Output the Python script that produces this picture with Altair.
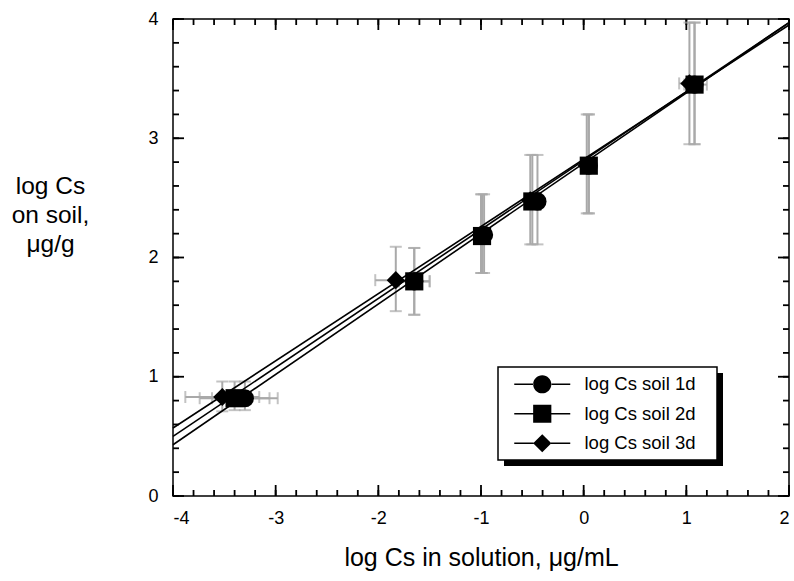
import altair as alt
import pandas as pd

# ---------------- data ----------------
series = ["log Cs soil 1d", "log Cs soil 2d", "log Cs soil 3d"]

x_1d = [-3.30, -1.65, -0.97, -0.45, 0.05, 1.08]
y_1d = [0.82, 1.80, 2.19, 2.47, 2.77, 3.45]
x_2d = [-3.40, -1.65, -0.99, -0.50, 0.05, 1.08]
y_2d = [0.82, 1.80, 2.18, 2.47, 2.77, 3.45]
x_3d = [-3.52, -1.83, -1.00, -0.52, 0.03, 1.03]
y_3d = [0.83, 1.81, 2.19, 2.48, 2.77, 3.46]

ylo_1d = [0.72, 1.52, 1.87, 2.11, 2.37, 2.95]
yhi_1d = [0.96, 2.08, 2.53, 2.86, 3.20, 3.97]
ylo_2d = [0.72, 1.52, 1.87, 2.11, 2.37, 2.95]
yhi_2d = [0.96, 2.08, 2.53, 2.86, 3.20, 3.97]
ylo_3d = [0.71, 1.55, 1.87, 2.11, 2.37, 2.95]
yhi_3d = [0.96, 2.09, 2.53, 2.86, 3.20, 3.97]

xlo_1d = [-3.62, -1.80, -1.02, -0.50, 0.05, 1.00]
xhi_1d = [-2.98, -1.50, -0.92, -0.40, 0.05, 1.16]
xlo_2d = [-3.74, -1.80, -1.04, -0.55, 0.05, 0.98]
xhi_2d = [-3.06, -1.50, -0.94, -0.45, 0.05, 1.20]
xlo_3d = [-3.88, -2.03, -1.05, -0.57, 0.03, 0.93]
xhi_3d = [-3.16, -1.63, -0.95, -0.47, 0.03, 1.13]

fit_x = [-4.0, 2.0]
fit_1d = [0.43, 3.97]
fit_2d = [0.50, 3.97]
fit_3d = [0.57, 3.95]

x_major = [-4, -3, -2, -1, 0, 1, 2]
y_major = [0, 1, 2, 3, 4]
x_minor = [round(-4 + 0.2 * i, 1) for i in range(31)]
y_minor = [round(0.2 * i, 1) for i in range(21)]

# ---------------- tables ----------------
rows = []
for s, xs_, ys_, ylo, yhi, xlo, xhi in [
    (series[0], x_1d, y_1d, ylo_1d, yhi_1d, xlo_1d, xhi_1d),
    (series[1], x_2d, y_2d, ylo_2d, yhi_2d, xlo_2d, xhi_2d),
    (series[2], x_3d, y_3d, ylo_3d, yhi_3d, xlo_3d, xhi_3d),
]:
    for i in range(len(xs_)):
        rows.append(dict(series=s, x=xs_[i], y=ys_[i], ylo=ylo[i], yhi=yhi[i],
                         xlo=xlo[i], xhi=xhi[i]))
pts = pd.DataFrame(rows)

fit_rows = []
for s, fy in zip(series, [fit_1d, fit_2d, fit_3d]):
    for xv, yv in zip(fit_x, fy):
        fit_rows.append(dict(series=s, x=xv, y=yv))
fits = pd.DataFrame(fit_rows)

# ---------------- layout ----------------
W, H = 616, 477
LEFT, TOP = 173, 19
FONT = "Liberation Sans"
XMIN, XMAX, YMIN, YMAX = -4.0, 2.0, 0.0, 4.0

xsc = alt.Scale(domain=[XMIN, XMAX], nice=False, zero=False)
ysc = alt.Scale(domain=[YMIN, YMAX], nice=False, zero=False)

AX = alt.Axis(orient="bottom", values=x_major, ticks=False, domain=False,
              grid=False, labelExpr="'' + datum.value",
              labelFont=FONT, labelFontSize=18, labelColor="black",
              labelPadding=13, title="log Cs in solution,  μg/mL",
              titleFont=FONT, titleFontSize=25, titleFontWeight="normal",
              titleColor="black", titlePadding=18)
AY = alt.Axis(orient="left", values=y_major, ticks=False, domain=False,
              grid=False, labelExpr="'' + datum.value",
              labelFont=FONT, labelFontSize=18, labelColor="black",
              labelPadding=15,
              title=["log Cs", "on soil,", "μg/g"],
              titleFont=FONT, titleFontSize=24.5, titleFontWeight="normal",
              titleColor="black", titleAngle=0, titleAlign="center",
              titleBaseline="alphabetic", titleX=-123, titleY=174,
              titleLineHeight=29)


def X(f):
    return alt.X(f, scale=xsc, axis=AX)


def Y(f):
    return alt.Y(f, scale=ysc, axis=AY)


ERR = "#a9a9a9"
base = alt.Chart(pts)

err_v = base.mark_rule(color=ERR, strokeWidth=2).encode(
    x=X("x:Q"), y=Y("ylo:Q"), y2="yhi:Q")
err_h = base.mark_rule(color=ERR, strokeWidth=2).encode(
    x=X("xlo:Q"), x2="xhi:Q", y=Y("y:Q"))


def cap(xf, yf, orient):
    return base.mark_tick(color=ERR, orient=orient, size=12, thickness=2).encode(
        x=X(xf), y=Y(yf))


caps = [cap("x:Q", "ylo:Q", "horizontal"), cap("x:Q", "yhi:Q", "horizontal"),
        cap("xlo:Q", "y:Q", "vertical"), cap("xhi:Q", "y:Q", "vertical")]

# inward tick marks on all four sides (tick length converted to data units)
xt_rows, yt_rows = [], []
for vals, px in [(x_minor, 6), (x_major, 11)]:
    ly = px / H * (YMAX - YMIN)
    for v in vals:
        xt_rows.append(dict(tv=v, a=YMIN, b=YMIN + ly))
        xt_rows.append(dict(tv=v, a=YMAX, b=YMAX - ly))
for vals, px in [(y_minor, 6), (y_major, 11)]:
    lx = px / W * (XMAX - XMIN)
    for v in vals:
        yt_rows.append(dict(tv=v, a=XMIN, b=XMIN + lx))
        yt_rows.append(dict(tv=v, a=XMAX, b=XMAX - lx))
xticks = alt.Chart(pd.DataFrame(xt_rows)).mark_rule(stroke="black", strokeWidth=1.8).encode(
    x=X("tv:Q"), y=Y("a:Q"), y2="b:Q")
yticks = alt.Chart(pd.DataFrame(yt_rows)).mark_rule(stroke="black", strokeWidth=1.8).encode(
    y=Y("tv:Q"), x=X("a:Q"), x2="b:Q")

lines = alt.Chart(fits).mark_line(color="black", strokeWidth=1.6).encode(
    x=X("x:Q"), y=Y("y:Q"), detail="series:N")

points = base.mark_point(filled=True, color="black", opacity=1).encode(
    x=X("x:Q"), y=Y("y:Q"),
    shape=alt.Shape("series:N", scale=alt.Scale(domain=series,
                    range=["circle", "square", "diamond"]), legend=None),
    size=alt.Size("series:N", scale=alt.Scale(domain=series, range=[330, 330, 340]),
                  legend=None),
)

# legend symbols: a line with the marker on it (filled paths, unit = 7 px)
legend_paths = [
    "M-4,-0.11H-1.25V0.11H-4ZM1.25,-0.11H4V0.11H1.25Z"
    "M-1.3,0A1.3,1.3,0,1,0,1.3,0A1.3,1.3,0,1,0,-1.3,0Z",
    "M-4,-0.11H-1.25V0.11H-4ZM1.25,-0.11H4V0.11H1.25Z"
    "M-1.3,-1.3H1.3V1.3H-1.3Z",
    "M-4,-0.11H-1.25V0.11H-4ZM1.25,-0.11H4V0.11H1.25Z"
    "M0,-1.3L1.3,0L0,1.3L-1.3,0Z",
]
LX, LY = 325, 348
LW, LH = 219, 93
legend_layer = base.mark_point(filled=True, color="black", size=0, clip=True).encode(
    x=X("x:Q"), y=Y("y:Q"),
    shape=alt.Shape("series:N",
                    scale=alt.Scale(domain=series, range=legend_paths),
                    legend=alt.Legend(title=None, orient="none", legendX=LX, legendY=LY,
                                      padding=8, symbolSize=196, symbolOffset=27,
                                      labelOffset=33, labelFont=FONT, labelFontSize=18.5,
                                      labelColor="black", rowPadding=4.5,
                                      symbolFillColor="black", symbolOpacity=1,
                                      labelLimit=400, cornerRadius=0)),
)

deco = alt.Chart(pd.DataFrame({"k": [0]}))
shadow = deco.mark_rect(color="black").encode(
    x=alt.value(LX + 6), x2=alt.value(LX + LW + 6),
    y=alt.value(LY + 6), y2=alt.value(LY + LH + 6),
)
box = deco.mark_rect(fill="white", stroke="black", strokeWidth=1.5).encode(
    x=alt.value(LX), x2=alt.value(LX + LW),
    y=alt.value(LY), y2=alt.value(LY + LH),
)

chart = alt.layer(
    xticks, yticks, err_v, err_h, *caps, lines, points, shadow, box, legend_layer
).resolve_scale(
    shape="independent", size="independent"
).properties(
    width=W, height=H,
    autosize=alt.AutoSizeParams(type="none"),
    padding={"left": LEFT, "top": TOP, "right": 794 - LEFT - W, "bottom": 581 - TOP - H},
    background="white",
).configure_view(
    stroke="black", strokeWidth=1.5
)

chart.save("out.html", embed_options={"renderer": "svg", "actions": False})
